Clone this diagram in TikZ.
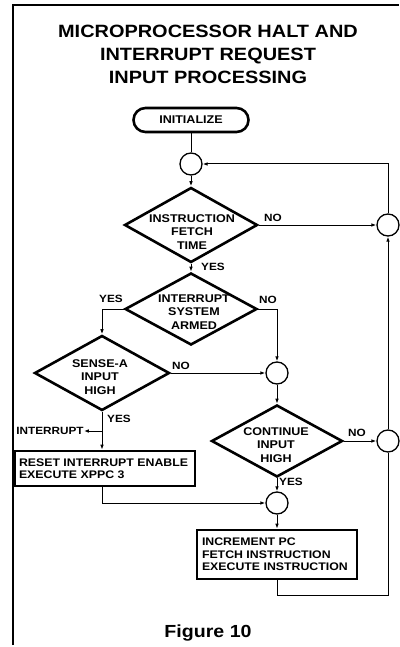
\documentclass[tikz,border=0pt]{standalone}
\usepackage{fontspec}
\newfontfamily\flowfont[FakeStretch=1.12]{Liberation Sans}
\usetikzlibrary{shapes.geometric,arrows.meta}

\begin{document}
\begin{tikzpicture}[x=1pt,y=-1pt,
  font=\flowfont\bfseries,
  test/.style={draw, diamond, line width=2.6pt, inner sep=0pt},
  dtext/.style={align=center, inner sep=0pt, font=\flowfont\bfseries\fontsize{11.2}{13.5}\selectfont},
  boxtext/.style={draw, rectangle, line width=2.6pt, align=flush left, inner ysep=0pt, inner xsep=4pt,
    font=\flowfont\bfseries\fontsize{11}{12.5}\selectfont},
  joint/.style={draw, circle, line width=1.3pt, minimum size=22pt, inner sep=0pt},
  lbl/.style={inner sep=0pt, font=\flowfont\bfseries\fontsize{10.5}{12}\selectfont},
  flow/.style={line width=1pt},
  arrowflow/.style={line width=1pt, -{Latex[length=5pt,width=3.6pt]}}]
\useasboundingbox (0,0) rectangle (399,647);
\draw[line width=1.2pt] (13,645) -- (13,5) -- (399,5);
\node (title) at (208,54) [align=center, inner sep=0pt, font=\flowfont\bfseries\fontsize{17.8}{23}\selectfont]
  {MICROPROCESSOR HALT AND\\INTERRUPT REQUEST\\INPUT PROCESSING};
\node (init) at (191,120) [draw, rectangle, rounded corners=12pt, line width=2.6pt,
  minimum width=115pt, minimum height=24pt, inner sep=0pt,
  font=\flowfont\bfseries\fontsize{11.2}{13}\selectfont] {INITIALIZE};
\node (c1) at (191,164) [joint] {};
\node (cr1) at (388,225) [joint] {};
\node (c3) at (277,373) [joint] {};
\node (cr2) at (388,441) [joint] {};
\node (c4) at (277,503) [joint] {};
\node (d1) at (191,225) [test, minimum width=133pt, minimum height=75pt] {};
\node (d2) at (191,309) [test, minimum width=132pt, minimum height=72pt] {};
\node (d3) at (102,373) [test, minimum width=135pt, minimum height=75pt] {};
\node (d4) at (277,441) [test, minimum width=131pt, minimum height=72pt] {};
\node (d1t) at (192,232) [dtext] {INSTRUCTION\\FETCH\\TIME};
\node (d2t) at (194,312) [dtext] {INTERRUPT\\SYSTEM\\ARMED};
\node (d3t) at (100,377) [dtext] {SENSE-A\\INPUT\\HIGH};
\node (d4t) at (276,445) [dtext] {CONTINUE\\INPUT\\HIGH};
\node (reset) at (105,468.5) [boxtext, minimum width=180pt, minimum height=35pt, text width=172pt]
  {RESET INTERRUPT ENABLE\\EXECUTE XPPC 3};
\node (incr) at (277,554.5) [boxtext, minimum width=160pt, minimum height=49pt, text width=150pt]
  {INCREMENT PC\\FETCH INSTRUCTION\\EXECUTE INSTRUCTION};
\node (no1) at (273,218) [lbl] {NO};
\node (yes1) at (213,267) [lbl] {YES};
\node (yes2) at (111,299) [lbl] {YES};
\node (no2) at (268,300) [lbl] {NO};
\node (no3) at (181,366) [lbl] {NO};
\node (no4) at (357,433) [lbl] {NO};
\node (yes3) at (119,419) [lbl] {YES};
\node (yes4) at (291,482) [lbl] {YES};
\node (intr) at (50,431) [lbl] {INTERRUPT};
\node (fig) at (208,637) [anchor=base, inner sep=0pt, font=\flowfont\bfseries\fontsize{17.5}{20}\selectfont] {Figure 10};
\coordinate (tap) at (102,431);
\draw[flow]
(init) to (c1)
(incr.south -| c4.south) -- ++(0,15) -| (cr2);
\draw[arrowflow]
(c1) to (d1);
\draw[arrowflow]
(d1) to (cr1);
\draw[arrowflow]
(cr1) |- (c1);
\draw[arrowflow]
(cr2) to (cr1);
\draw[arrowflow]
(d1) to (d2);
\draw[arrowflow]
(d2) -| (d3);
\draw[arrowflow]
(d2) -| (c3);
\draw[arrowflow]
(d3) to (c3);
\draw[arrowflow]
(c3) to (d4);
\draw[arrowflow]
(d4) to (cr2);
\draw[arrowflow]
(d3.south) to (d3.south |- reset.north);
\draw[arrowflow]
(tap) to (intr);
\draw[arrowflow]
(reset.south -| d3.south) |- (c4);
\draw[arrowflow]
(d4) to (c4);
\draw[arrowflow]
(c4) to (c4 |- incr.north);
\end{tikzpicture}
\end{document}
